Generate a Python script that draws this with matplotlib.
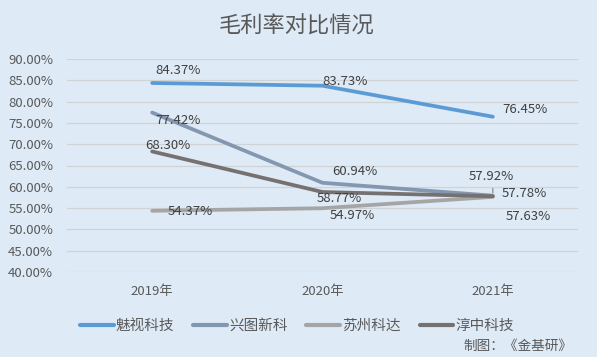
import matplotlib
matplotlib.use("Agg")
import matplotlib.pyplot as plt
from matplotlib.lines import Line2D

plt.rcParams['font.family'] = ['Noto Sans CJK SC', 'DejaVu Sans']

categories = ["2019年", "2020年", "2021年"]
series_names = ["魅视科技", "兴图新科", "苏州科达", "淳中科技"]
meishi = [84.37, 83.73, 76.45]
xingtu = [77.42, 60.94, 57.92]
suzhou = [54.37, 54.97, 57.63]
chunzhong = [68.30, 58.77, 57.78]
yticks = [40, 45, 50, 55, 60, 65, 70, 75, 80, 85, 90]

colors = ["#5B9BD5", "#8497B0", "#A5A5A5", "#767171"]
values = [meishi, xingtu, suzhou, chunzhong]

# label offsets in pixels (dx, dy) for each series / point
offsets = [
    [(26, 12), (23, 4), (32, 7)],
    [(26, -8), (32, 11), (-2, 19)],
    [(38, -1), (30, -7), (35, -20)],
    [(16, 6), (17, -6), (31, 3)],
]

bg = "#DEEAF6"
fig = plt.figure(figsize=(5.97, 3.57), dpi=100, facecolor=bg)
ax = fig.add_axes([67/597, 1-272/357, (578-67)/597, (272-59)/357], facecolor=bg)

x = list(range(len(categories)))
for name, vals, c in zip(series_names, values, colors):
    ax.plot(x, vals, color=c, lw=2.7, solid_capstyle='round', solid_joinstyle='round', zorder=3, label=name)

for vals, offs in zip(values, offsets):
    for xi, v, (dx, dy) in zip(x, vals, offs):
        ax.annotate(f"{v:.2f}%", (xi, v), xytext=(dx, dy), textcoords='offset pixels',
                    ha='center', va='center', fontsize=9.5, color="#404040", zorder=5)

# leader line for 57.92% label
ax.annotate("", (2, xingtu[2]), xytext=(0, 10), textcoords='offset pixels',
            arrowprops=dict(arrowstyle='-', color='#808080', lw=0.8), zorder=4)

ax.set_xlim(-0.5, 2.5)
ax.set_ylim(40, 90)
ax.set_yticks(yticks)
ax.set_yticklabels([f"{t:.2f}%" for t in yticks])
ax.set_xticks(x)
ax.set_xticklabels(categories)
ax.tick_params(axis='both', length=0, labelsize=9.5, colors="#595959")
ax.tick_params(axis='y', pad=10)
ax.tick_params(axis='x', pad=9)
ax.grid(axis='y', color="#D0D3D6", lw=0.9, zorder=0)
for s in ax.spines.values():
    s.set_visible(False)

fig.text(297/597, 1-26/357, "毛利率对比情况", ha='center', va='center', fontsize=16, color="#595959")

handles = [Line2D([0], [0], color=c, lw=3, solid_capstyle='round') for c in colors]
leg = fig.legend(handles, series_names, loc='center', bbox_to_anchor=(297/597, 1-326/357), ncol=4,
                 frameon=False, fontsize=10.5, handlelength=2.3, handletextpad=0.15,
                 columnspacing=1.3, labelcolor="#595959", borderpad=0, borderaxespad=0)

fig.text(572/597, 1-346/357, "制图：《金基研》", ha='right', va='center', fontsize=9.8, color="#595959")

fig.savefig("out.png", dpi=100, facecolor=bg)
